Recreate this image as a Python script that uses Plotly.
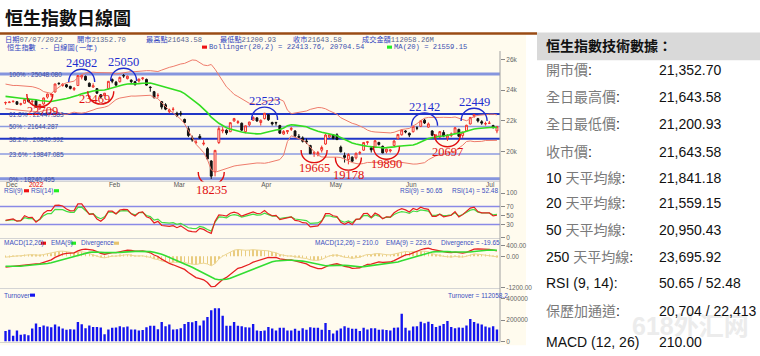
import plotly.graph_objects as go
import pandas as pd

W, H = 760, 356


def px_x(v):
    return v / W


def px_y(v):
    return 1 - v / H


# ---------------- data ----------------
# closes before the visible window (used only to warm up MA / RSI / MACD)
pre_close = [24036, 24104, 23967, 24702, 24838, 25326, 24962, 25331, 25410, 25787,
             26136, 26017, 26126, 26132, 26039, 25628, 25556, 25377,
             25154, 25100, 25024, 25225, 24871, 24813, 24814, 24996, 25248, 25328,
             25390, 25714, 25650, 25320, 25050, 24952, 24652, 24686, 24740, 24081,
             23852, 23475,
             23659, 23789, 23767, 23350, 23984, 23996, 24254, 23996, 23955, 23636,
             23420, 23475, 23193, 22745, 22972, 23102]

month_days = [
    ("2021-12", [23, 24, 28, 29, 30, 31]),
    ("2022-01", [3, 4, 5, 6, 7, 10, 11, 12, 13, 14, 17, 18, 19, 20, 21, 24, 25, 26, 27, 28, 31]),
    ("2022-02", [4, 7, 8, 9, 10, 11, 14, 15, 16, 17, 18, 21, 22, 23, 24, 25, 28]),
    ("2022-03", [1, 2, 3, 4, 7, 8, 9, 10, 11, 14, 15, 16, 17, 18, 21, 22, 23, 24, 25, 28, 29, 30, 31]),
    ("2022-04", [1, 4, 6, 7, 8, 11, 12, 13, 14, 19, 20, 21, 22, 25, 26, 27, 28, 29]),
    ("2022-05", [3, 4, 5, 6, 10, 11, 12, 13, 16, 17, 18, 19, 20, 23, 24, 25, 26, 27, 30, 31]),
    ("2022-06", [1, 2, 6, 7, 8, 9, 10, 13, 14, 15, 16, 17, 20, 21, 22, 23, 24, 27, 28, 29, 30]),
    ("2022-07", [4, 5, 6, 7]),
]
month_labels = ["Dec", "<span style='color:#e00000'>2022</span>", "Feb", "Mar", "Apr", "May", "Jun", "Jul"]

opens = [23180, 23190, 23260, 23250, 23080, 23150,
         23410, 23250, 23310, 22850, 23100, 23550, 23700, 23880, 24450, 24300,
         24350, 24250, 24050, 24300, 24850, 24900, 24450, 24200, 24100, 23700, 23650,
         24100, 24700, 24520, 24550, 24950, 24750, 24650, 24550, 24600, 24750,
         24700, 24200, 23900, 23650, 23250, 23050, 22600,
         22750, 22500, 22500, 22100, 21500, 20900, 20600, 21000, 20500, 20200,
         19400, 18700, 20600, 21350, 21400, 21300, 22000, 21900, 21850, 21300,
         21750, 22050, 22200,
         21900, 22150, 22400, 21900, 21900, 21700, 21150, 21300, 21450, 21350,
         21000, 20900, 20700, 20400, 19900, 19800, 20100, 20500,
         20950, 21100, 21100, 20300, 19750, 19500, 19650, 19600, 19900, 20100,
         20600, 20250, 20300, 20600, 20350, 20000, 20050, 20400, 20850, 21100,
         21350, 21200, 21300, 21550, 21650, 22050, 21600, 21350, 20950, 20950,
         21250, 20900, 21050, 21200, 21450, 21050, 21350, 21800, 22300, 22150, 21950,
         21800, 21850, 21700, 21352.70]
highs = [23260, 23280, 23320, 23280, 23180, 23420,
         23450, 23320, 23330, 23100, 23520, 23780, 23820, 24420, 24500, 24450,
         24400, 24280, 24200, 24960, 24982, 24950, 24500, 24450, 24130, 23750, 23820,
         24600, 24760, 24600, 24880, 25050, 24950, 24700, 24600, 24750, 24850,
         24750, 24250, 23950, 23800, 23300, 23150, 22800,
         22900, 22600, 22650, 22150, 21650, 21050, 20800, 21150, 20750, 20300,
         19450, 20120, 21650, 21600, 21450, 21900, 22200, 22050, 21900, 21700,
         21950, 22300, 22250,
         22100, 22523, 22450, 21950, 21950, 21750, 21400, 21400, 21600, 21400,
         21150, 21000, 20850, 20450, 20050, 20050, 20400, 21150,
         21150, 21150, 21200, 20400, 19950, 19900, 19700, 19950, 20050, 20620,
         20700, 20300, 20750, 20650, 20400, 20200, 20150, 20750, 21150, 21450,
         21400, 21250, 21700, 21650, 22050, 22142, 21900, 21400, 21150, 21350,
         21400, 21150, 21250, 21600, 21500, 21300, 21750, 22250, 22449, 22200, 22050,
         21950, 22000, 21750, 21643.58]
lows = [23050, 23170, 23190, 23050, 23000, 23130,
        23200, 23100, 22870, 22709, 23050, 23450, 23560, 23850, 24330, 24230,
        24150, 24050, 23950, 24300, 24700, 24600, 24200, 24150, 23750, 23469, 23600,
        24050, 24450, 24250, 24500, 24800, 24700, 24450, 24300, 24500, 24650,
        24300, 23900, 23450, 23500, 22750, 22700, 22500,
        22600, 22250, 22300, 21850, 20950, 20650, 20500, 20850, 20400, 19500,
        18235, 18400, 20500, 21200, 21100, 21300, 21950, 21800, 21350, 21200,
        21650, 22000, 21950,
        21700, 22100, 22000, 21700, 21700, 21150, 21100, 21150, 21350, 20950,
        20850, 20600, 20500, 19850, 19665, 19700, 19950, 20450,
        20900, 20800, 20750, 19950, 19300, 19178, 19350, 19500, 19800, 20050,
        20450, 19950, 20250, 20400, 19900, 19890, 19950, 20350, 20800, 21050,
        21200, 20950, 21250, 21400, 21600, 21800, 21550, 21000, 20850, 20880,
        20950, 20697, 20950, 21150, 20950, 20900, 21300, 21780, 22200, 21900, 21750,
        21700, 21800, 21500, 21200.93]
closes = [23193, 23223, 23280, 23086, 23112, 23398,
          23275, 23289, 22907, 23072, 23493, 23746, 23739, 24402, 24429, 24383,
          24219, 24113, 24128, 24952, 24966, 24656, 24244, 24290, 23807, 23551, 23802,
          24573, 24579, 24330, 24830, 24925, 24906, 24556, 24356, 24718, 24793,
          24328, 24171, 23520, 23660, 22902, 22768, 22713,
          22761, 22344, 22468, 21905, 21057, 20766, 20628, 20890, 20554, 19532,
          18415, 20087, 21501, 21412, 21221, 21889, 22154, 21946, 21404, 21684,
          21928, 22232, 21997,
          22040, 22502, 22080, 21808, 21872, 21208, 21320, 21374, 21518, 21027,
          20945, 20682, 20639, 19869, 19934, 19946, 20276, 21089,
          21101, 20870, 20794, 20002, 19634, 19824, 19380, 19899, 19950, 20602,
          20644, 20120, 20717, 20471, 19924, 20171, 20117, 20697, 21124, 21415,
          21294, 21082, 21654, 21532, 22014, 21869, 21806, 21068, 21067, 21308,
          21018, 21075, 21164, 21560, 21008, 21274, 21719, 22229, 22419, 21997, 21860,
          21830, 21853, 21587, 21643.58]
turnover = [98000, 110000, 55000, 104000, 64000, 67000, 58000, 122000, 168000, 137000,
            150000, 140000, 134000, 159000, 140000, 122000, 110000, 116000, 113000, 183000,
            162000, 125000, 150000, 137000, 137000, 131000, 67000, 113000, 128000, 131000,
            143000, 134000, 140000, 113000, 113000, 104000, 107000, 134000, 147000, 147000,
            116000, 183000, 143000, 159000, 113000, 116000, 125000, 165000, 183000, 180000,
            192000, 150000, 198000, 229000, 293000, 311000, 311000, 241000, 147000, 147000,
            183000, 147000, 143000, 134000, 131000, 165000, 104000, 98000, 104000, 137000,
            122000, 104000, 128000, 128000, 104000, 104000, 119000, 101000, 125000, 110000,
            134000, 128000, 128000, 110000, 174000, 107000, 76000, 104000, 122000, 143000,
            128000, 119000, 119000, 98000, 128000, 113000, 125000, 125000, 110000, 113000,
            107000, 104000, 128000, 131000, 260000, 128000, 104000, 140000, 143000, 186000,
            171000, 186000, 165000, 137000, 147000, 165000, 192000, 137000, 125000, 131000,
            128000, 150000, 211000, 183000, 168000, 159000, 140000, 131000, 143000, 112058.2]

# turning points marked on the chart: (date, "high" / "low")
turning_points = [("2022-01-06", "low"), ("2022-01-21", "high"), ("2022-01-28", "low"),
                  ("2022-02-10", "high"), ("2022-03-15", "low"), ("2022-04-04", "high"),
                  ("2022-04-26", "low"), ("2022-05-11", "low"), ("2022-05-25", "low"),
                  ("2022-06-09", "high"), ("2022-06-17", "low"), ("2022-06-28", "high")]
# per-marker pixel nudges (label dx, label lift, arc lift) for the hand-placed marks
marker_nudge = {"2022-01-06": (3, 10, 9), "2022-01-28": (-6, 10, 0)}

fib_high, fib_low = 25048.080, 18240.495
fib_ratios = [1.0, 0.618, 0.5, 0.382, 0.236, 0.0]
fib_names = ["100%", "61.8%", "50%", "38.2%", "23.6%", "0%"]

header1 = [("日期", "07/07/2022"), ("開市", "21352.70"), ("最高點", "21643.58"),
           ("最低點", "21200.93"), ("收市", "21643.58"), ("成交金額", "112058.26M")]
header2_title = "恒生指數 -- 日線圖(一年)"
boll_text = "Bollinger(20,2) = 22413.76, 20704.54"
ma_text = "MA(20) = 21559.15"
rsi_values_text = ["RSI(9) = 50.65", "RSI(14) = 52.48"]
macd_values_text = ["MACD(12,26) = 210.0", "EMA(9) = 229.6", "Divergence = -19.65"]
turnover_text = "Turnover = 112058.2"

table_labels = ["開市價:", "全日最高價:", "全日最低價:", "收市價:", "10 天平均線:", "20 天平均線:",
                "50 天平均線:", "250 天平均線:", "RSI (9, 14):", "保歷加通道:", "MACD (12, 26)"]
table_values = ["21,352.70", "21,643.58", "21,200.93", "21,643.58", "21,841.18", "21,559.15",
                "20,950.43", "23,695.92", "50.65 / 52.48", "20,704 / 22,413", "210.00"]

# ---------------- indicators ----------------
dates = [f"{m}-{d:02d}" for m, ds in month_days for d in ds]
n = len(dates)
xi = list(range(n))
allc = pd.Series(pre_close + closes, dtype=float)
ma20 = allc.rolling(20).mean()
sd20 = allc.rolling(20).std(ddof=0)
bb_up = (ma20 + 2 * sd20).iloc[-n:]
bb_dn = (ma20 - 2 * sd20).iloc[-n:]
ma20 = ma20.iloc[-n:]


def rsi(s, p):
    d = s.diff()
    g = d.clip(lower=0).ewm(alpha=1 / p, adjust=False).mean()
    l = (-d.clip(upper=0)).ewm(alpha=1 / p, adjust=False).mean()
    return (100 - 100 / (1 + g / l)).iloc[-n:]


rsi9, rsi14 = rsi(allc, 9), rsi(allc, 14)
ema12 = allc.ewm(span=12, adjust=False).mean()
ema26 = allc.ewm(span=26, adjust=False).mean()
macd_all = ema12 - ema26
sig_all = macd_all.ewm(span=9, adjust=False).mean()
macd = macd_all.iloc[-n:]
sig = sig_all.iloc[-n:]
div = macd - sig

month_idx = []
seen = set()
for i, dt in enumerate(dates):
    if dt[:7] not in seen:
        seen.add(dt[:7])
        month_idx.append(i)

# ---------------- figure ----------------
fig = go.Figure()
C_UP, C_DN = "#f0302a", "#111111"
fig.add_trace(go.Scatter(x=xi, y=list(bb_up), mode="lines", line=dict(color="#ee7b6b", width=1), xaxis="x", yaxis="y"))
fig.add_trace(go.Scatter(x=xi, y=list(bb_dn), mode="lines", line=dict(color="#ee7b6b", width=1), xaxis="x", yaxis="y"))
fig.add_trace(go.Scatter(x=xi, y=list(ma20), mode="lines", line=dict(color="#33dd22", width=1.6), xaxis="x", yaxis="y"))
fig.add_trace(go.Candlestick(x=xi, open=opens, high=highs, low=lows, close=closes,
                             increasing=dict(line=dict(color=C_UP, width=1), fillcolor="#fffbee"),
                             decreasing=dict(line=dict(color=C_DN, width=1), fillcolor=C_DN),
                             whiskerwidth=0, xaxis="x", yaxis="y"))
# RSI
fig.add_trace(go.Scatter(x=xi, y=list(rsi14), mode="lines", line=dict(color="#44dd44", width=1.2), xaxis="x2", yaxis="y2"))
fig.add_trace(go.Scatter(x=xi, y=list(rsi9), mode="lines", line=dict(color="#e62020", width=1.2), xaxis="x2", yaxis="y2"))
# MACD
fig.add_trace(go.Bar(x=xi, y=list(div), width=0.14, marker=dict(color="#e9cc80", line=dict(width=0)), xaxis="x3", yaxis="y3"))
fig.add_trace(go.Scatter(x=xi, y=list(div), mode="lines", line=dict(color="#ecd592", width=1), xaxis="x3", yaxis="y3"))
fig.add_trace(go.Scatter(x=xi, y=list(macd), mode="lines", line=dict(color="#e62020", width=1.3), xaxis="x3", yaxis="y3"))
fig.add_trace(go.Scatter(x=xi, y=list(sig), mode="lines", line=dict(color="#33dd33", width=1.6), xaxis="x3", yaxis="y3"))
# Turnover
fig.add_trace(go.Bar(x=xi, y=turnover, width=0.62, marker=dict(color="#1414ee", line=dict(width=0)), xaxis="x4", yaxis="y4"))

tickfont = dict(family="Liberation Sans", size=6.5, color="#666666")
xr = [-1.45, 129.8]
xdom = [0, px_x(500)]
axx = dict(domain=xdom, range=xr, showgrid=False, zeroline=False, fixedrange=True,
           showline=True, linecolor="#d4d4d4", linewidth=1)
fig.update_layout(
    width=W, height=H, margin=dict(l=0, r=0, t=0, b=0),
    paper_bgcolor="white", plot_bgcolor="rgba(0,0,0,0)", showlegend=False, barmode="overlay",
    xaxis=dict(axx, anchor="y", rangeslider=dict(visible=False), tickvals=month_idx, ticktext=month_labels,
               ticklabelposition="outside right", ticks="", ticklabelstandoff=-3,
               tickfont=dict(family="Liberation Sans", size=6.5, color="#555555")),
    xaxis2=dict(axx, anchor="y2", showticklabels=False, matches="x"),
    xaxis3=dict(axx, anchor="y3", showticklabels=False, matches="x"),
    xaxis4=dict(axx, anchor="y4", showticklabels=False, matches="x"),
)
yax = dict(side="right", showgrid=False, zeroline=False, ticks="outside", ticklen=4, tickcolor="#888888",
           tickfont=tickfont, showline=False, fixedrange=True)
fig.update_layout(
    yaxis=dict(yax, anchor="x", domain=[px_y(181), px_y(48)], range=[18070, 26541],
               tickvals=[20000, 22000, 24000, 26000]),
    yaxis2=dict(yax, anchor="x2", domain=[px_y(238.5), px_y(193)], range=[0, 100],
                tickvals=[0, 30, 50, 70, 100]),
    yaxis3=dict(yax, anchor="x3", domain=[px_y(289.2), px_y(245.4)], range=[-1205, 449],
                tickvals=[-1200, 0, 400], ticktext=["-1200.00", "0.00", "400.00"]),
    yaxis4=dict(yax, anchor="x4", domain=[px_y(344.3), px_y(300.7)], range=[0, 400000],
                tickvals=[0, 200000, 400000], ticktext=["0", "200000", "400000"]),
)

shapes = []


def txt(x, y, text, size=6.5, color="#3b4fc0", family="Liberation Sans", anchor="left"):
    fig.add_annotation(x=px_x(x), y=px_y(y), xref="paper", yref="paper", text=text, showarrow=False,
                       xanchor=anchor, yanchor="middle", borderpad=0, borderwidth=0,
                       font=dict(size=size, color=color, family=family))


def sq(x, y, color):
    shapes.append(dict(type="rect", xref="paper", yref="paper", x0=px_x(x), x1=px_x(x + 5),
                       y0=px_y(y + 1.6), y1=px_y(y - 1.6), fillcolor=color, line=dict(width=0)))


# watermark first so that everything else sits on top of it
txt(690, 328, "<b>618外汇网</b>", size=25, color="#ececec", family="Liberation Sans, Noto Sans CJK SC",
    anchor="center")

# panel background + brown rule + right axis line
shapes.append(dict(type="rect", xref="paper", yref="paper", x0=0, x1=px_x(526), y0=px_y(348), y1=px_y(31),
                   fillcolor="#fffbee", line=dict(width=0), layer="below"))
shapes.append(dict(type="line", xref="paper", yref="paper", x0=0, x1=px_x(537), y0=px_y(30), y1=px_y(30),
                   line=dict(color="#9a4b14", width=2.5)))
shapes.append(dict(type="line", xref="paper", yref="paper", x0=px_x(500), x1=px_x(500), y0=px_y(345), y1=px_y(48),
                   line=dict(color="#a0a0a0", width=1)))
# fibonacci levels
fib_style = {1.0: ("#8595de", 3), 0.618: ("#2036c6", 2), 0.5: ("#8d9be0", 1.5),
             0.382: ("#2036c6", 2), 0.236: ("#8d9be0", 1.5), 0.0: ("#8595de", 3)}
for r, name in zip(fib_ratios, fib_names):
    lv = fib_low + r * (fib_high - fib_low)
    col, wd = fib_style[r]
    shapes.append(dict(type="line", xref="x domain", yref="y", x0=0, x1=1, y0=lv, y1=lv,
                       line=dict(color=col, width=wd), layer="below"))
    fig.add_annotation(x=px_x(9), xref="paper", y=lv, yref="y", text=f"{name} : {lv:.3f}", showarrow=False,
                       xanchor="left", yanchor="bottom", yshift=-4, borderpad=0, borderwidth=0,
                       font=dict(family="Liberation Sans", size=6.5, color="#3a4a9e"))
# RSI 70/30
for lv in (70, 30):
    shapes.append(dict(type="line", xref="x2 domain", yref="y2", x0=0, x1=1, y0=lv, y1=lv,
                       line=dict(color="#8a8ae6", width=1.5), layer="below"))

# turning point arcs + labels
for dt, kind in turning_points:
    i = dates.index(dt)
    tdx, tlift, alift = marker_nudge.get(dt, (0, 0, 0))
    if kind == "high":
        v = highs[i]
        col = "#1e2ccf"
        a, b = -7 + alift, 10 + alift
        ys = 12
    else:
        v = lows[i]
        col = "#e01010"
        a, b = 7 + alift, -10 + alift
        ys = -11
    path = f"M -13,{a} C -13,{b} 13,{b} 13,{a}"
    shapes.append(dict(type="path", xref="x", yref="y", xsizemode="pixel", ysizemode="pixel",
                       xanchor=i, yanchor=v, path=path, line=dict(color=col, width=1.4)))
    fig.add_annotation(x=i, y=v, xref="x", yref="y", text=f"{v:.0f}", showarrow=False,
                       yshift=ys + tlift, xshift=tdx,
                       xanchor="center", yanchor="middle", borderpad=0, borderwidth=0,
                       font=dict(family="Liberation Serif", size=12.5, color=col))

# chart header
mono = "Liberation Mono, Noto Sans CJK TC"
for (lab, val), x in zip(header1, [5, 77, 146, 220, 293, 362]):
    txt(x, 36.5, f"<span style='color:#2f43c0'>{lab}</span>{val}", size=7.2, color="#5a6690", family=mono)
txt(7, 44, header2_title, size=7.2, color="#2f43c0", family=mono)
sq(202, 44, "#ee1111")
txt(209, 44, boll_text, size=7.2, color="#3b4fb0", family=mono)
sq(387, 44, "#22ee22")
txt(394, 44, ma_text, size=7.2, color="#3b4fb0", family=mono)

# sub-panel headers
txt(4, 190.5, "RSI(9)")
sq(24, 190.5, "#ee1111")
txt(31, 190.5, "RSI(14)")
sq(54, 190.5, "#22ee22")
txt(400, 190.5, rsi_values_text[0])
txt(452, 190.5, rsi_values_text[1])
txt(4, 244, "MACD(12,26)")
sq(41, 244, "#ee1111")
txt(51, 244, "EMA(9)")
sq(71, 244, "#22ee22")
txt(81, 244, "Divergence")
sq(114, 244, "#e6c46e")
for t, x in zip(macd_values_text, [315, 386, 441]):
    txt(x, 244, t)
txt(4, 297, "Turnover")
sq(30, 297, "#1414ee")
txt(448, 297, turnover_text)

# page title
txt(5, 13, "<b>恒生指數日線圖</b>", size=18, color="#111111", family="Noto Sans CJK TC")

# right-hand table
shapes.append(dict(type="rect", xref="paper", yref="paper", x0=px_x(537), x1=1, y0=px_y(57.5), y1=px_y(29),
                   fillcolor="#d9d9d9", line=dict(width=0)))
txt(546, 42, "<b>恒生指數技術數據：</b>", size=14, color="#111111", family="Noto Sans CJK TC")


def label_html(s):
    out = ""
    for ch in s:
        if ord(ch) > 127:
            out += f"<span style='color:#7a7a7a'>{ch}</span>"
        else:
            out += ch
    return out


row_y = [67, 94.5, 122.5, 150.5, 177, 203.5, 231, 258, 285, 313, 345]
for lab, val, y in zip(table_labels, table_values, row_y):
    txt(546, y, label_html(lab), size=14, color="#111111", family="Liberation Sans, Noto Sans CJK TC")
    txt(659, y, val, size=14, color="#111111", family="Liberation Sans")

fig.update_layout(shapes=shapes)
fig.write_html("out.html")
